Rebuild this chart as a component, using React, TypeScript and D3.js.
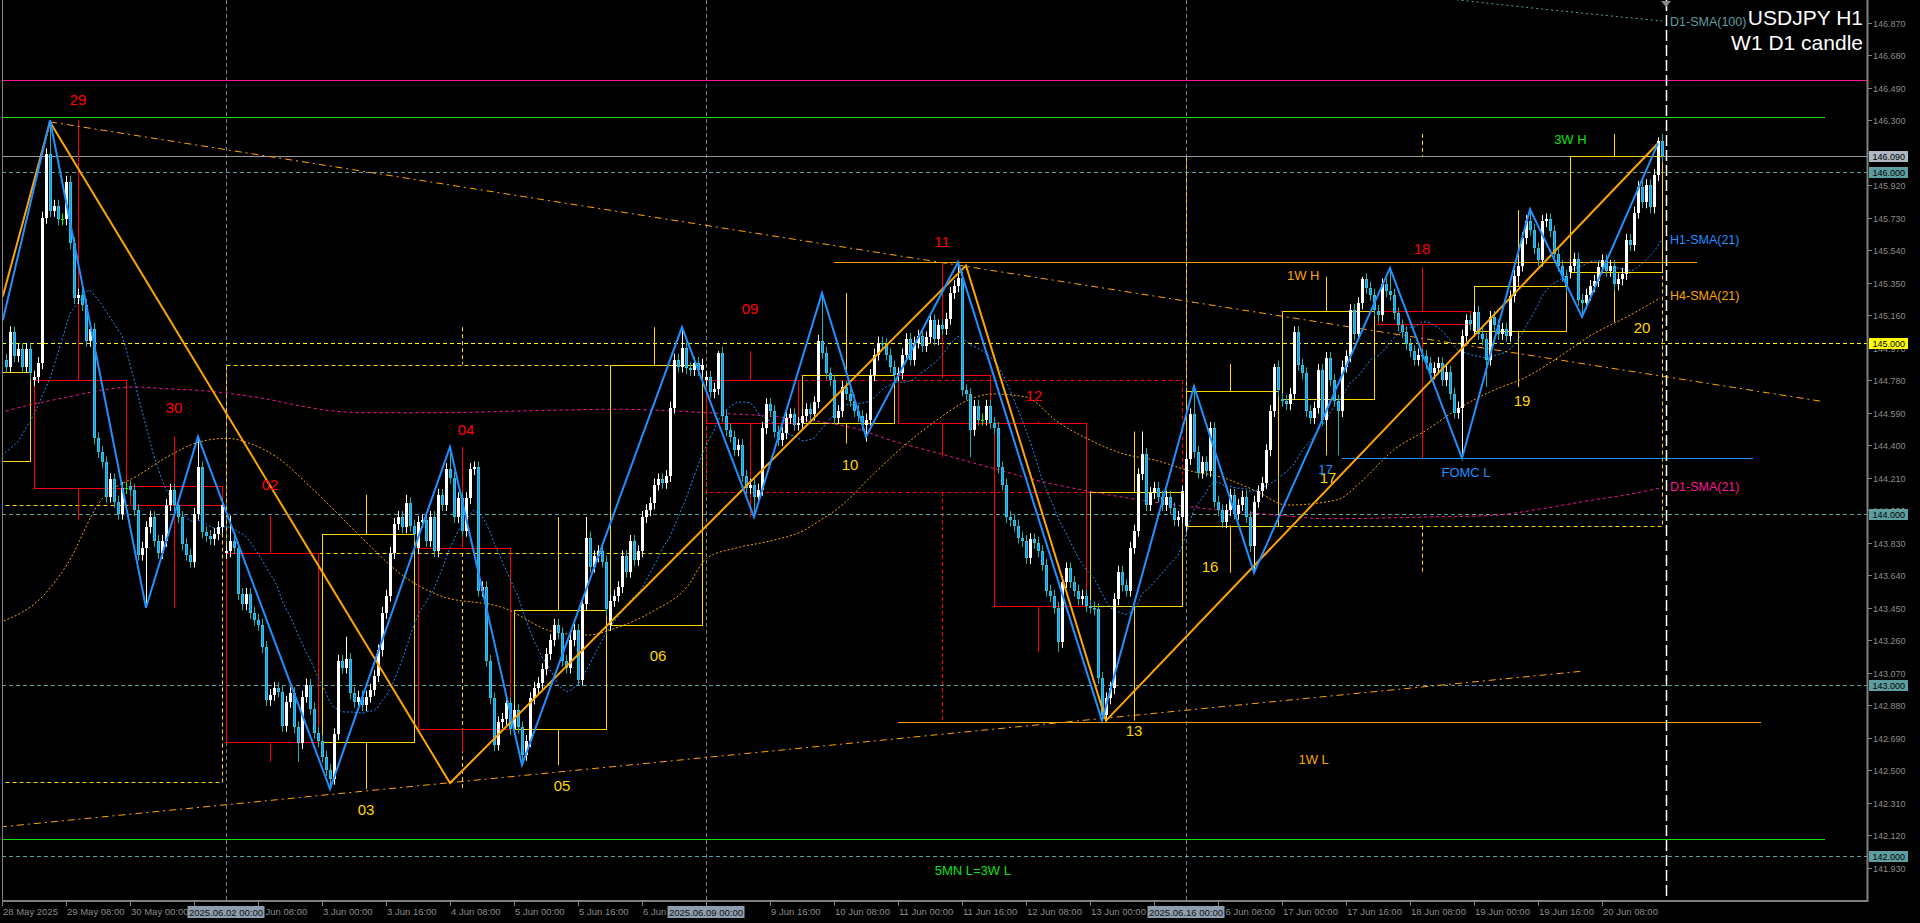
import React from "react";
import * as d3 from "d3";

// ---------------- DATA ----------------
// H1 bars: bar index 0 = 28 May 2025 16:00 (server time), weekends skipped
const firstBar = 1;
const h1Close: number[] = [
  // 28 May (17:00-23:00)
  144.86, 145.06, 144.92, 144.96, 144.86, 144.96, 144.82,
  // 29 May
  144.80, 144.88, 145.73, 146.10, 145.77, 145.80, 145.72, 145.72, 145.94, 145.58, 145.26, 145.28,
  145.22, 145.01, 145.08, 144.44, 144.36, 144.30, 144.10, 144.20, 144.07, 144.00, 144.15, 144.15,
  // 30 May
  144.14, 144.02, 143.76, 143.80, 143.92, 143.98, 143.84, 143.77, 143.84, 144.05, 144.14, 144.05,
  143.98, 143.82, 143.76, 143.72, 144.00, 144.27, 143.89, 143.87, 143.85, 143.88, 143.92, 144.05,
  // 2 Jun
  143.78, 143.84, 143.80, 143.53, 143.47, 143.53, 143.42, 143.38, 143.35, 143.22, 142.91, 142.94,
  142.98, 142.96, 142.76, 142.90, 142.95, 142.75, 142.66, 142.93, 143.00, 142.86, 142.72, 142.67,
  // 3 Jun
  142.58, 142.50, 142.45, 142.71, 143.14, 143.10, 143.15, 142.95, 142.90, 142.93, 142.88, 142.93,
  142.97, 143.05, 143.20, 143.42, 143.52, 143.77, 143.94, 143.98, 143.92, 144.06, 143.93, 143.88,
  // 4 Jun
  143.95, 143.96, 143.84, 143.98, 143.78, 144.11, 144.05, 144.26, 144.21, 143.98, 144.09, 143.90,
  144.09, 144.26, 144.27, 143.55, 143.57, 143.14, 142.92, 142.65, 142.78, 142.80, 142.89, 142.74,
  // 5 Jun
  142.85, 142.75, 142.59, 142.67, 142.92, 142.98, 143.01, 143.09, 143.18, 143.26, 143.35, 143.30,
  143.14, 143.10, 143.26, 143.32, 143.03, 143.47, 143.86, 143.69, 143.75, 143.78, 143.72, 143.44,
  // 6 Jun
  143.49, 143.52, 143.57, 143.75, 143.66, 143.84, 143.73, 143.78, 143.98, 144.02, 144.06, 144.17,
  144.20, 144.18, 144.22, 144.62, 144.90, 144.86, 144.97, 144.85, 144.84, 144.88, 144.84, 144.87,
  // 9 Jun
  144.80, 144.71, 144.73, 144.94, 144.57, 144.49, 144.45, 144.37, 144.40, 144.22, 144.15, 144.17,
  144.10, 144.14, 144.50, 144.64, 144.60, 144.48, 144.43, 144.47, 144.56, 144.58, 144.52, 144.53,
  // 10 Jun
  144.57, 144.61, 144.58, 144.65, 145.01, 144.94, 144.82, 144.78, 144.56, 144.60, 144.74, 144.70,
  144.66, 144.60, 144.57, 144.52, 144.55, 144.81, 144.93, 145.00, 144.99, 144.93, 144.86, 144.81,
  // 11 Jun
  144.82, 144.93, 145.02, 144.90, 145.00, 145.04, 144.98, 145.03, 145.13, 145.02, 145.10, 145.08,
  145.14, 145.29, 145.33, 145.38, 144.72, 144.70, 144.49, 144.63, 144.55, 144.55, 144.63, 144.53,
  // 12 Jun
  144.50, 144.27, 144.17, 143.98, 143.96, 143.93, 143.86, 143.84, 143.74, 143.85, 143.83, 143.78,
  143.70, 143.55, 143.52, 143.45, 143.25, 143.60, 143.68, 143.60, 143.55, 143.50, 143.52, 143.46,
  // 13 Jun
  143.45, 143.44, 143.04, 142.82, 142.92, 142.98, 143.50, 143.66, 143.58, 143.55, 143.80, 143.90,
  144.23, 144.35, 144.05, 144.12, 144.15, 144.10, 144.05, 144.10, 144.03, 143.96, 143.98, 144.13,
  // 16 Jun
  144.32, 144.58, 144.36, 144.24, 144.30, 144.25, 144.50, 144.07, 144.02, 143.95, 144.02, 144.11,
  144.00, 144.05, 144.10, 143.98, 143.81, 144.07, 144.13, 144.18, 144.37, 144.60, 144.86, 144.72,
  // 17 Jun
  144.66, 144.64, 144.70, 145.06, 144.87, 144.82, 144.60, 144.56, 144.62, 144.84, 144.55, 144.91,
  144.78, 144.66, 144.60, 144.86, 144.92, 145.19, 145.05, 145.23, 145.37, 145.32, 145.28, 145.19,
  // 18 Jun
  145.16, 145.34, 145.30, 145.28, 145.17, 145.10, 145.06, 144.99, 144.95, 144.90, 144.93, 144.92,
  144.88, 144.82, 144.85, 144.88, 144.78, 144.83, 144.70, 144.59, 144.62, 145.04, 145.13, 145.11,
  // 19 Jun
  145.18, 145.05, 145.02, 144.90, 145.15, 145.10, 145.05, 145.08, 145.04, 145.27, 145.39, 145.45,
  145.61, 145.71, 145.66, 145.55, 145.48, 145.71, 145.72, 145.65, 145.52, 145.45, 145.39, 145.33,
  // 20 Jun
  145.45, 145.49, 145.25, 145.23, 145.28, 145.33, 145.36, 145.44, 145.48, 145.42, 145.45, 145.34,
  145.37, 145.40, 145.60, 145.57, 145.76, 145.91, 145.82, 145.92, 145.79, 145.98, 146.18, 146.09,
];
// opening price of each session's first bar [bar, open]
const sessionOpens: [number, number][] = [
  [1, 144.90], [8, 144.78], [32, 144.16], [56, 143.77], [80, 142.67], [104, 143.80],
  [128, 142.74], [152, 143.35], [176, 144.78], [200, 144.53], [224, 144.81], [248, 144.53],
  [272, 143.46], [296, 143.93], [320, 144.67], [344, 145.185], [368, 145.07], [392, 145.41],
];
const typicalWick = 0.035;
// notable wick extremes [bar, high, low]
const wickExtremes: [number, number | null, number | null][] = [
  [12, 146.30, null], [29, null, 143.965], [36, null, 143.45], [49, 144.45, null],
  [57, 143.99, null], [74, null, 142.55], [82, null, 142.39], [86, 143.28, null],
  [101, 144.11, null], [112, 144.39, null], [123, null, 142.61], [130, null, 142.53],
  [146, 143.98, null], [170, 145.09, null], [179, 144.95, null], [188, null, 143.98],
  [205, 145.29, null], [216, null, 144.42], [239, 145.47, null], [242, null, 144.33],
  [264, null, 143.19], [275, null, 142.79], [285, 144.48, null], [298, 144.75, null],
  [313, null, 143.655], [318, 144.875, null], [334, null, 144.34], [340, 145.385, null],
  [347, 145.435, null], [365, null, 144.323], [371, null, 144.74], [382, 145.78, null],
  [395, null, 145.15], [414, 146.20, null], [415, 146.22, null],
];

// D1 candles
const dayName = ["28", "29", "30", "02", "03", "04", "05", "06", "09", "10", "11", "12", "13", "16", "17", "18", "19", "20"];
const dayMonth = ["May", "May", "May", "Jun", "Jun", "Jun", "Jun", "Jun", "Jun", "Jun", "Jun", "Jun", "Jun", "Jun", "Jun", "Jun", "Jun", "Jun"];
const dayStart = [-16, 8, 32, 56, 80, 104, 128, 152, 176, 200, 224, 248, 272, 296, 320, 344, 368, 392];
const d1Open = [144.31, 144.78, 144.16, 143.77, 142.665, 143.80, 142.74, 143.35, 144.78, 144.53, 144.81, 144.53, 143.46, 143.93, 144.67, 145.185, 145.07, 145.41];
const d1High = [145.10, 146.30, 144.45, 143.99, 144.11, 144.39, 143.98, 145.09, 144.95, 145.29, 145.47, 144.54, 144.48, 144.875, 145.385, 145.44, 145.775, 146.22];
const d1Low = [144.05, 143.965, 143.45, 142.55, 142.39, 142.61, 142.53, 143.35, 143.98, 144.41, 144.33, 143.19, 142.79, 143.655, 144.34, 144.323, 144.74, 145.12];
const d1Close = [144.83, 144.15, 144.05, 142.665, 143.88, 142.74, 143.435, 144.87, 144.53, 144.81, 144.53, 143.46, 144.126, 144.715, 145.185, 145.107, 145.33, 146.09];
const d1LabelBar = [null, 19, 43, 67, 91, 116, 140, 164, 187, 212, 235, 258, 283, 302, 331.5, 355, 380, 410];
const d1LabelPrice = [null, 146.42, 144.62, 144.17, 142.27, 144.49, 142.41, 143.17, 145.20, 144.29, 145.59, 144.69, 142.73, 143.69, 144.21, 145.55, 144.66, 145.09];

// W1 candles
const weekStart = [-64, 56, 176, 296];
const w1Open = [142.43, 143.77, 144.78, 143.93];
const w1High = [146.30, 145.09, 145.47, 146.22];
const w1Low = [142.10, 142.39, 142.79, 143.655];
const w1Close = [144.05, 144.87, 144.126, 146.09];
const weekSepLabels = ["2025.06.02 00:00", "2025.06.09 00:00", "2025.06.16 00:00"];

// ZigZags [bar, price]
const zigBlue: [number, number][] = [
  [0.2, 145.13], [12, 146.30], [36, 143.45], [49, 144.45], [82, 142.39], [112, 144.39],
  [130, 142.53], [170, 145.09], [188, 143.98], [205, 145.29], [216, 144.45], [239, 145.47],
  [275, 142.79], [298, 144.745], [313, 143.655], [347, 145.435], [365, 144.323], [382, 145.78],
  [395, 145.15], [414, 146.165],
];
const zigOrange: [number, number][] = [
  [0.2, 145.27], [12, 146.29], [112, 142.425], [241, 145.45], [276, 142.79], [414, 146.165],
];

// Moving averages [bar, price]
const h1SmaLeadIn: [number, number][] = [[0, 144.34], [4, 144.42], [8, 144.58], [12, 144.79], [17, 145.17]];
const h4Sma21: [number, number][] = [
  [-0.5, 143.365], [10.3, 143.52], [16.2, 143.70], [24.5, 144.07], [34.5, 144.23], [41.2, 144.33],
  [49.5, 144.42], [56.2, 144.44], [62, 144.41], [68.7, 144.33], [78.7, 144.12], [91.2, 143.83],
  [99.5, 143.65], [109.5, 143.52], [125.3, 143.45], [137.8, 143.31], [146.2, 143.29], [154.5, 143.34],
  [162.8, 143.43], [171.2, 143.57], [176.2, 143.74], [183.7, 143.80], [192, 143.84], [200.3, 143.90],
  [204.5, 143.96], [209.5, 144.04], [217.8, 144.23], [226.2, 144.41], [234.5, 144.56], [241.2, 144.66],
  [247.8, 144.70], [256.2, 144.68], [263.7, 144.54], [272, 144.43], [280.3, 144.35], [288.7, 144.31],
  [297, 144.25], [305.3, 144.21], [313.7, 144.13], [321.2, 144.05], [333.7, 144.08], [339.5, 144.18],
  [347.8, 144.37], [356.2, 144.49], [364.5, 144.62], [372.8, 144.72], [381.2, 144.80], [389.5, 144.92],
  [397.8, 145.05], [406.2, 145.15], [414.5, 145.26],
];
const d1Sma21: [number, number][] = [
  [-0.5, 144.59], [7.8, 144.64], [16.2, 144.68], [24.5, 144.72], [32.8, 144.74], [41.2, 144.73],
  [49.5, 144.72], [57.8, 144.70], [66.2, 144.67], [74.5, 144.63], [82.8, 144.60], [91.2, 144.59],
  [109.5, 144.59], [129.5, 144.60], [154.5, 144.61], [176.2, 144.59], [196.2, 144.56], [214.5, 144.49],
  [222, 144.43], [234.5, 144.35], [247, 144.27], [259.5, 144.19], [272, 144.13], [284.5, 144.08],
  [297, 144.04], [309.5, 144.01], [319.5, 143.99], [331.2, 143.97], [356.2, 143.98], [372.8, 143.99],
  [385.3, 144.03], [397.8, 144.08], [406.2, 144.11], [414.5, 144.15],
];
const d1Sma100: [number, number][] = [[350, 147.04], [385, 146.95], [415, 146.88]];

// trend lines [bar0, price0, bar1, price1]
const trendLines: [number, number, number, number][] = [
  [12, 146.29, 454.75, 144.657],
  [-0.5, 142.168, 395.6, 143.08],
];

// horizontal levels
const levelDashed = [
  { price: 146.0, color: "#5F9EA0", bg: "#5F9EA0" },
  { price: 145.0, color: "#FFFF00", bg: "#FFFF00" },
  { price: 144.0, color: "#5F9EA0", bg: "#5F9EA0" },
  { price: 143.0, color: "#5F9EA0", bg: "#5F9EA0" },
  { price: 142.0, color: "#5F9EA0", bg: "#5F9EA0" },
];
const bidPrice = 146.09;
const magentaLevel = 146.535;
// segment levels [price, bar0, bar1, color]
const segLevels: [number, number, number, string][] = [
  [146.32, -1, 455.75, "#10E010"],
  [142.096, -1, 455.75, "#10E010"],
  [145.47, 208, 423.75, "#FFA500"],
  [142.78, 224, 439.75, "#FFA500"],
  [144.323, 335, 437.75, "#1E90FF"],
];
// text notes [text, bar, price, color]
const notes: [string, number, number, string][] = [
  ["3W H", 392.1, 146.19, "#10E010"],
  ["1W H", 325.3, 145.39, "#FFA500"],
  ["1W L", 327.9, 142.56, "#FFA500"],
  ["5MN L=3W L", 242.7, 141.916, "#10E010"],
  ["FOMC L", 366, 144.24, "#1E90FF"],
  ["17", 330.9, 144.26, "#1E90FF"],
];
const smaLabels: [string, number, string][] = [
  ["D1-SMA(100)", 146.874, "#5F9EA0"],
  ["H1-SMA(21)", 145.60, "#1E90FF"],
  ["H4-SMA(21)", 145.27, "#FFA500"],
  ["D1-SMA(21)", 144.155, "#FF1493"],
];

const priceTicks = [146.87, 146.68, 146.49, 146.30, 146.11, 145.92, 145.73, 145.54, 145.35, 145.16, 144.97, 144.78,
  144.59, 144.40, 144.21, 144.02, 143.83, 143.64, 143.45, 143.26, 143.07, 142.88, 142.69, 142.50, 142.31, 142.12, 141.93];
const timeTickBars = d3.range(0, 416, 16);
// time labels covered by the week-separator date boxes: fully hidden, or only a part visible
const timeHidden = [48, 176, 288];
// [bar, visible text, "before" | "after" the box]
const timePartial: [number, string, string][] = [
  [64, "Jun 08:00", "after"],
  [160, "6 Jun", "before"],
  [304, "6 Jun 08:00", "after"],
];

// ---------------- COMPONENT ----------------
const W = 1920, H = 923;
const PL = 2, PR = 1867, PB = 901;
const RED = "#FF0000", GOLD = "#FFD700";
const SEP_HALF = 38.5;

export default function App() {
  const x = d3.scaleLinear().domain([0, 415]).range([2, 1662]);
  const y = d3.scaleLinear().domain([141.93, 146.87]).range([867.7, 22.7]);

  const openMap = new Map(sessionOpens);
  const exMap = new Map(wickExtremes.map((d) => [d[0], d]));
  const bars: { i: number; o: number; h: number; l: number; c: number }[] = [];
  let prev = h1Close[0];
  h1Close.forEach((c, k) => {
    const i = firstBar + k;
    const o = openMap.has(i) ? (openMap.get(i) as number) : prev;
    let h = Math.max(o, c) + typicalWick;
    let l = Math.min(o, c) - typicalWick;
    const ex = exMap.get(i);
    if (ex) {
      if (ex[1] != null) h = ex[1];
      if (ex[2] != null) l = ex[2];
    }
    bars.push({ i, o, h, l, c });
    prev = c;
  });

  // H1 SMA(21)
  const h1Sma: [number, number][] = [...h1SmaLeadIn];
  for (let k = 20; k < h1Close.length; k++) {
    h1Sma.push([firstBar + k, d3.mean(h1Close.slice(k - 20, k + 1)) as number]);
  }

  const line = d3.line<[number, number]>().x((d) => x(d[0])).y((d) => y(d[1]));
  const curve = d3.line<[number, number]>().x((d) => x(d[0])).y((d) => y(d[1])).curve(d3.curveMonotoneX);

  const dayOfBar = (b: number) => {
    for (let d = dayStart.length - 1; d >= 0; d--) if (b >= dayStart[d]) return d;
    return 0;
  };
  const timeLabel = (b: number) => {
    if (b === 0) return "28 May 2025";
    const d = dayOfBar(b);
    const hh = b - dayStart[d];
    return `${+dayName[d]} ${dayMonth[d]} ${String(hh).padStart(2, "0")}:00`;
  };
  const nearestSep = (b: number) => {
    let best = weekStart[1];
    weekStart.slice(1).forEach((s) => { if (Math.abs(s - b) < Math.abs(best - b)) best = s; });
    return best;
  };

  const axisFont = "'Liberation Sans', Arial, sans-serif";

  return (
    <svg width={W} height={H} style={{ position: "fixed", left: 0, top: 0, background: "#000", display: "block" }}
      fontFamily={axisFont}>
      <rect x={0} y={0} width={W} height={H} fill="#000" />
      <defs>
        <clipPath id="plot"><rect x={PL} y={0} width={PR - PL} height={PB} /></clipPath>
      </defs>
      <g clipPath="url(#plot)">
        {/* week separators */}
        {weekStart.slice(1).map((b) => (
          <line key={"ws" + b} x1={x(b) + 0.5} x2={x(b) + 0.5} y1={0} y2={PB} stroke="#708090" strokeDasharray="4,3" />
        ))}
        {/* magenta level */}
        <line x1={PL} x2={PR} y1={Math.round(y(magentaLevel)) + 0.5} y2={Math.round(y(magentaLevel)) + 0.5} stroke="#FF1493" />
        {/* W1 candles */}
        {weekStart.map((s, k) => {
          const col = w1Close[k] >= w1Open[k] ? GOLD : RED;
          const x0 = Math.round(x(s)) + 0.5, x1 = Math.round(x(s + 119)) + 0.5, xm = Math.round(x(s + 59)) + 0.5;
          const top = y(Math.max(w1Open[k], w1Close[k])), bot = y(Math.min(w1Open[k], w1Close[k]));
          return (
            <g key={"w" + k} stroke={col} fill="none" strokeDasharray="4,3">
              <rect x={x0} y={Math.round(top) + 0.5} width={x1 - x0} height={Math.round(bot) - Math.round(top)} />
              <line x1={xm} x2={xm} y1={y(w1High[k])} y2={top} />
              <line x1={xm} x2={xm} y1={bot} y2={y(w1Low[k])} />
            </g>
          );
        })}
        {/* dashed round levels */}
        {levelDashed.map((L) => (
          <line key={"lv" + L.price} x1={PL} x2={PR} y1={Math.round(y(L.price)) + 0.5} y2={Math.round(y(L.price)) + 0.5}
            stroke={L.color} strokeDasharray="4,3" />
        ))}
        {/* bid line */}
        <line x1={PL} x2={PR} y1={Math.round(y(bidPrice)) + 0.5} y2={Math.round(y(bidPrice)) + 0.5} stroke="#9a9a9a" />
        {/* segment levels */}
        {segLevels.map(([p, b0, b1, col], k) => (
          <line key={"sl" + k} x1={x(b0)} x2={x(b1)} y1={Math.round(y(p)) + 0.5} y2={Math.round(y(p)) + 0.5} stroke={col} />
        ))}
        {/* D1 candles */}
        {dayStart.map((s, k) => {
          const col = d1Close[k] >= d1Open[k] ? GOLD : RED;
          const x0 = Math.round(x(s)) + 0.5, x1 = Math.round(x(s + 23)) + 0.5, xm = Math.round(x(s + 11)) + 0.5;
          const top = y(Math.max(d1Open[k], d1Close[k])), bot = y(Math.min(d1Open[k], d1Close[k]));
          return (
            <g key={"d" + k} stroke={col} fill="none">
              <rect x={x0} y={Math.round(top) + 0.5} width={x1 - x0} height={Math.max(1, Math.round(bot) - Math.round(top))} />
              <line x1={xm} x2={xm} y1={y(d1High[k])} y2={top} />
              <line x1={xm} x2={xm} y1={bot} y2={y(d1Low[k])} />
            </g>
          );
        })}
        {/* SMAs */}
        <path d={curve(d1Sma21) || ""} fill="none" stroke="#FF1493" strokeDasharray="3,3" />
        <path d={curve(d1Sma100) || ""} fill="none" stroke="#5F9EA0" strokeDasharray="2,3" />
        <path d={curve(h4Sma21) || ""} fill="none" stroke="#FFA500" strokeDasharray="2,2" />
        <path d={line(h1Sma) || ""} fill="none" stroke="#1E90FF" strokeDasharray="2,2" />
        {/* trend lines */}
        {trendLines.map((t, k) => (
          <line key={"tl" + k} x1={x(t[0])} y1={y(t[1])} x2={x(t[2])} y2={y(t[3])} stroke="#FFA500" strokeDasharray="7,4,2,4" />
        ))}
        {/* candles */}
        {bars.map((b) => {
          const X = Math.round(x(b.i));
          const bull = b.c > b.o, doji = Math.abs(b.c - b.o) < 0.0001;
          const yT = Math.round(y(Math.max(b.o, b.c))), yB = Math.round(y(Math.min(b.o, b.c)));
          if (doji) {
            return (
              <g key={"b" + b.i} stroke="#00FF00">
                <line x1={X + 0.5} x2={X + 0.5} y1={y(b.h)} y2={y(b.l)} />
                <line x1={X - 1} x2={X + 2} y1={yT + 0.5} y2={yT + 0.5} />
              </g>
            );
          }
          const wickCol = bull ? "#FFFFFF" : "#20B2AA";
          return (
            <g key={"b" + b.i}>
              <line x1={X + 0.5} x2={X + 0.5} y1={y(b.h)} y2={y(b.l)} stroke={wickCol} />
              {bull ? (
                <rect x={X - 1} y={yT} width={3} height={Math.max(1, yB - yT)} fill="#FFFFFF" />
              ) : (
                <rect x={X - 0.5} y={yT + 0.5} width={2} height={Math.max(0.5, yB - yT - 1)} fill="#1E90FF" stroke="#30C8D8" />
              )}
            </g>
          );
        })}
        {/* zigzags */}
        <path d={line(zigOrange) || ""} fill="none" stroke="#FFA500" strokeWidth={2} />
        <path d={line(zigBlue) || ""} fill="none" stroke="#1E90FF" strokeWidth={2} />
        {/* day labels */}
        {dayStart.map((s, k) =>
          d1LabelBar[k] == null ? null : (
            <text key={"dl" + k} x={x(d1LabelBar[k] as number)} y={y(d1LabelPrice[k] as number)} fill={d1Close[k] >= d1Open[k] ? GOLD : RED}
              fontSize={15} textAnchor="middle" dominantBaseline="central">{dayName[k]}</text>
          )
        )}
        {/* notes */}
        {notes.map(([t, b, p, col], k) => (
          <text key={"n" + k} x={x(b)} y={y(p)} fill={col} fontSize={13} textAnchor="middle" dominantBaseline="central">{t}</text>
        ))}
        {smaLabels.map(([t, p, col]) => (
          <text key={t} x={x(417)} y={y(p)} fill={col} fontSize={12.5} dominantBaseline="central">{t}</text>
        ))}
        {/* chart shift line */}
        <line x1={x(416) + 0.5} x2={x(416) + 0.5} y1={0} y2={PB} stroke="#FFFFFF" strokeWidth={1.5} strokeDasharray="11,4" />
        <path d={`M${x(416) - 5},1 L${x(416) + 5},1 L${x(416)},7 Z`} fill="#8a8a8a" />
        {/* title */}
        <text x={1863} y={25} fill="#FFFFFF" fontSize={21} textAnchor="end">USDJPY H1</text>
        <text x={1863} y={50} fill="#FFFFFF" fontSize={21} textAnchor="end">W1 D1 candle</text>
      </g>

      {/* frame */}
      <line x1={PL + 0.5} x2={PL + 0.5} y1={0} y2={PB} stroke="#808080" />
      <line x1={PR + 0.5} x2={PR + 0.5} y1={0} y2={PB + 1} stroke="#808080" strokeWidth={2} />
      <line x1={PL} x2={PR + 1} y1={PB} y2={PB} stroke="#808080" strokeWidth={2} />

      {/* price axis */}
      {priceTicks.map((p) => {
        const yy = Math.round(y(p)) + 0.5;
        return (
          <g key={"pt" + p}>
            <line x1={PR + 1} x2={PR + 5} y1={yy} y2={yy} stroke="#808080" />
            <text x={1873} y={yy + 3.3} fill="#8c8c8c" fontSize={9}>{p.toFixed(3)}</text>
          </g>
        );
      })}
      {[...levelDashed.map((L) => ({ p: L.price, bg: L.bg })), { p: bidPrice, bg: "#AEB8C2" }].map((L) => {
        const yy = Math.round(y(L.p));
        return (
          <g key={"hl" + L.p}>
            <rect x={1869} y={yy - 5} width={39} height={11} fill={L.bg} />
            <text x={1872.5} y={yy + 4} fill="#000" fontSize={9}>{L.p.toFixed(3)}</text>
          </g>
        );
      })}

      {/* time axis */}
      {timeTickBars.map((b) => {
        const X = Math.round(x(b)) + 0.5;
        const part = timePartial.find((t) => t[0] === b);
        let label: React.ReactNode = null;
        if (timeHidden.includes(b)) label = null;
        else if (part) {
          const sx = x(nearestSep(b));
          label = part[2] === "after"
            ? <text x={sx + SEP_HALF + 1} y={915} fill="#8c8c8c" fontSize={9.5}>{part[1]}</text>
            : <text x={X + 0.5} y={915} fill="#8c8c8c" fontSize={9.5}>{part[1]}</text>;
        } else label = <text x={X + 0.5} y={915} fill="#8c8c8c" fontSize={9.5}>{timeLabel(b)}</text>;
        return (
          <g key={"tt" + b}>
            <line x1={X} x2={X} y1={PB + 1} y2={PB + 5} stroke="#808080" />
            {label}
          </g>
        );
      })}
      {weekStart.slice(1).map((b, k) => (
        <g key={"wl" + b}>
          <rect x={x(b) - SEP_HALF} y={906} width={SEP_HALF * 2} height={12} fill="#8E9DAE" />
          <text x={x(b)} y={915.5} fill="#111" fontSize={9.5} textAnchor="middle">{weekSepLabels[k]}</text>
        </g>
      ))}
    </svg>
  );
}
